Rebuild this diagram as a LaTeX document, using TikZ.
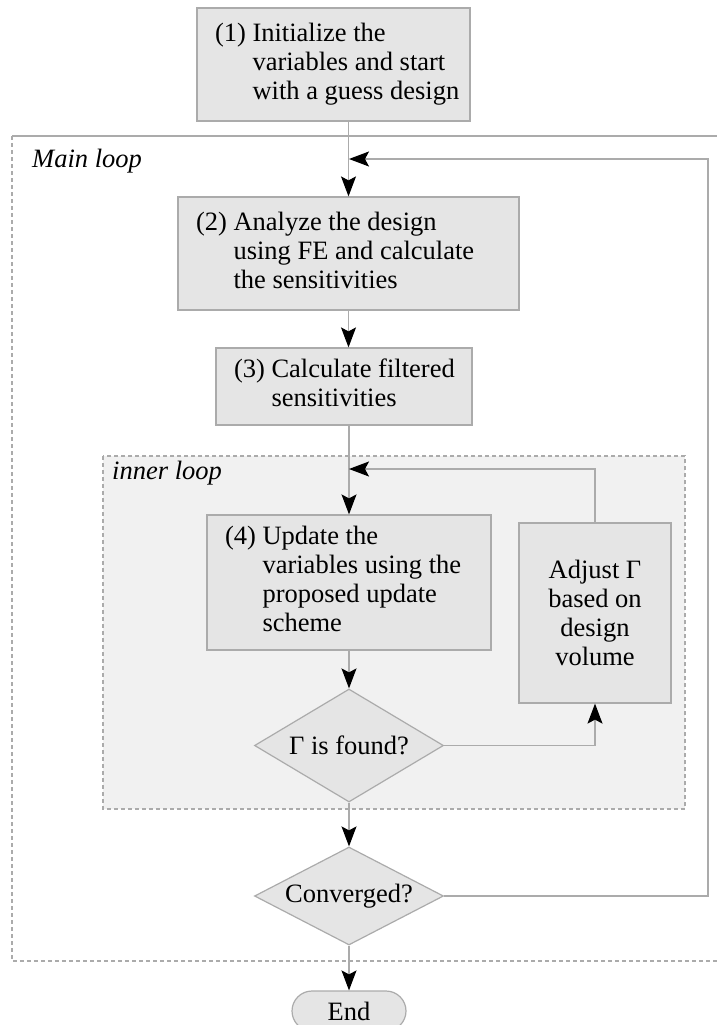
\documentclass[tikz,border=0pt]{standalone}
\usepackage{fontspec}
\setmainfont{Liberation Serif}
\usetikzlibrary{shapes.geometric,arrows.meta,positioning}
\definecolor{edgegray}{HTML}{ABABAB}
\definecolor{boxgray}{HTML}{E5E5E5}
\definecolor{loopgray}{HTML}{F1F1F1}
\newcommand{\flowfont}{\fontsize{26.5}{29}\selectfont}
\tikzset
{
    stepbox/.style  = {rectangle, draw=edgegray, fill=boxgray, line width=1.2pt, inner xsep=18pt, inner ysep=0pt},
    adjbox/.style   = {rectangle, draw=edgegray, fill=boxgray, line width=1.2pt, align=center, inner sep=0pt},
    decision/.style = {diamond, aspect=2, draw=edgegray, fill=boxgray, line width=1.2pt, inner sep=0pt, minimum width=189pt},
    terminal/.style = {rectangle, rounded corners=20pt, draw=edgegray, fill=boxgray, line width=1.2pt, minimum width=114pt, minimum height=40pt},
    looplabel/.style = {anchor=west, inner sep=0pt, font=\flowfont\itshape},
    loopline/.style = {draw=edgegray, line width=1.2pt},
    flow/.style     = {draw=edgegray, line width=1.2pt, ->}
}
\newcommand{\numtext}[3]{\makebox[#1][l]{\begin{tabular}{@{}l@{\hspace{0.25em}}l@{}}#2 & #3\end{tabular}}}

\begin{document}
\begin{tikzpicture}[x=1pt, y=-1pt, >={Stealth[length=20pt,width=15pt,inset=4pt,color=black]}, font=\flowfont]
    \useasboundingbox (0,0) rectangle (717,1025);

    % loop frames
    \draw[loopline, dash pattern=on 4pt off 3pt, fill=loopgray] (103,456) rectangle (685,809);
    \draw[loopline] (12,136) -- (717,136);
    \draw[loopline, dash pattern=on 4pt off 3pt] (12,136) -- (12,961) -- (717,961);
    \node [looplabel] (mainlabel) at (32,161) {Main loop};
    \node [looplabel] (innerlabel) at (112,473) {inner loop};

    % steps
    \node [stepbox, minimum height=113pt] (init) at (333.5,64.5)
        {\numtext{237pt}{(1)}{Initialize the\\ & variables and start\\ & with a guess design}};
    \node [stepbox, minimum height=113pt] (analyze) at (348.5,253.5)
        {\numtext{305pt}{(2)}{Analyze the design\\ & using FE and calculate\\ & the sensitivities}};
    \node [stepbox, minimum height=77pt] (filter) at (344,386.5)
        {\numtext{220pt}{(3)}{Calculate filtered\\ & sensitivities}};
    \node [stepbox, minimum height=135pt] (update) at (349,582.5)
        {\numtext{248pt}{(4)}{Update the\\ & variables using the\\ & proposed update\\ & scheme}};
    \node [adjbox, minimum width=152pt, minimum height=180pt] (adjust) at (595,613)
        {Adjust Γ\\based on\\design\\volume};
    \node [decision, minimum height=113pt] (found) at (349,745.5) {Γ is found?};
    \node [decision, minimum height=98pt] (conv) at (349,896) {Converged?};
    \node [terminal] (finish) at (349,1011) {End};

    % feedback points
    \coordinate (innerin) at (349,469);
    \coordinate (mainin) at (349,159);
    \coordinate (mainright) at (708,159);

    % connectors
    \draw[flow] (init.south -| analyze.north) -- (analyze.north);
    \draw[flow] (analyze.south) -- (analyze.south |- filter.north);
    \draw[flow] (update.north |- filter.south) -- (update.north);
    \draw[flow] (update) -- (found);
    \draw[flow] (found) -- (conv);
    \draw[flow] (conv) -- (finish);
    \draw[flow] (found.east) -| (adjust.south);
    \draw[flow] (adjust.north) |- (innerin);
    \draw[flow] (conv.east) -| (mainright) -- (mainin);
\end{tikzpicture}
\end{document}
